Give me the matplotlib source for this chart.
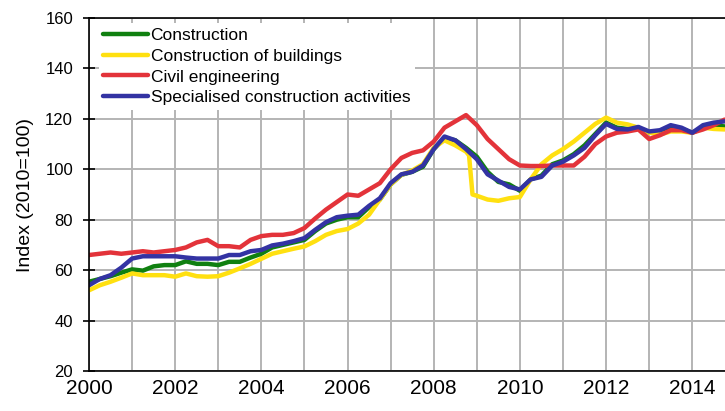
import numpy as np
import matplotlib.pyplot as plt

# quarterly readings, 2000 Q1 .. 2014 Q4
years = np.arange(2000, 2014.76, 0.25)

construction = [55.4, 56.5, 57.6, 59, 60.3, 59.8, 61.5, 62, 62, 63.5, 62.5, 62.5,
                62, 63.3, 63.3, 65, 66.5, 69, 70, 71, 72, 75.5, 78.5, 80,
                81, 81, 85, 88, 94, 97.8, 99, 101, 108, 112.5, 111.5, 108.5,
                105, 99, 95, 94, 91.5, 96, 97.5, 102, 103.5, 106, 109.5, 114,
                118.5, 116.5, 116, 116.5, 114.5, 114.5, 116.5, 116, 114.5, 116.5, 117.5, 117]

civil = [66, 66.5, 67, 66.5, 67, 67.5, 67, 67.5, 68, 69, 71, 72,
         69.5, 69.5, 69, 72, 73.5, 74, 74, 74.7, 76.7, 80.5, 84, 87,
         90, 89.5, 92, 94.5, 100, 104.5, 106.5, 107.5, 111, 116.5, 119, 121.5,
         117.5, 112, 108, 104, 101.5, 101.3, 101.3, 101.5, 101.5, 101.5, 105, 110,
         113, 114.5, 115, 115.8, 112, 113.5, 115.5, 115.5, 114.5, 115.8, 117.5, 119.7]

specialised = [54, 56.5, 58, 61, 64.6, 65.5, 65.5, 65.5, 65.5, 65, 64.6, 64.6,
               64.6, 66, 66, 67.5, 68, 69.8, 70.5, 71.5, 72.7, 76, 79, 81,
               81.6, 82, 85.5, 88.5, 94.5, 98, 99, 101.5, 108, 113, 111.5, 108,
               104, 98, 95.5, 93, 92, 96, 97, 101.5, 103, 105.5, 108.5, 113.5,
               118, 116, 115.8, 116.8, 115, 115.5, 117.5, 116.5, 114.5, 117.5, 118.5, 119]

# buildings has the sharp drop at end of 2008, so it gets a few extra points
buildings_years = [2000, 2000.25, 2000.5, 2000.75, 2001, 2001.25, 2001.5, 2001.75,
                   2002, 2002.25, 2002.5, 2002.75, 2003, 2003.25, 2003.5, 2003.75,
                   2004, 2004.25, 2004.5, 2004.75, 2005, 2005.25, 2005.5, 2005.75,
                   2006, 2006.25, 2006.5, 2006.75, 2007, 2007.25, 2007.5, 2007.75,
                   2008, 2008.25, 2008.5, 2008.75, 2008.82, 2008.9, 2009, 2009.25,
                   2009.5, 2009.75, 2010, 2010.25, 2010.5, 2010.75, 2011, 2011.25,
                   2011.5, 2011.75, 2012, 2012.25, 2012.5, 2012.75, 2013, 2013.25,
                   2013.5, 2013.75, 2014, 2014.25, 2014.5, 2014.75]
buildings = [52, 54, 55.4, 57, 58.7, 58, 58, 58, 57.4, 58.7, 57.6, 57.4,
             57.6, 59, 60.7, 62.5, 64.5, 66.5, 67.5, 68.5, 69.4, 71.5, 74, 75.5,
             76.3, 78.5, 82, 88, 94, 97.8, 99.5, 102, 108.5, 111.5, 109.5, 107,
             105.5, 90, 89.5, 88, 87.5, 88.5, 89, 96, 102, 105.5, 108, 111,
             114.5, 118, 120.5, 118.5, 117.8, 116.5, 114.5, 113.8, 115, 115,
             114.5, 116.5, 116, 115.8]

labels = ['Construction', 'Construction of buildings', 'Civil engineering',
          'Specialised construction activities']

plt.rcParams['font.family'] = ['Liberation Sans', 'DejaVu Sans']

fig = plt.figure(figsize=(7.25, 4.11), dpi=100)
ax = fig.add_axes([89/725, 40/411, 636/725, 353/411])

lw = 3.2
style = dict(lw=lw, solid_joinstyle='round', solid_capstyle='round')
ax.plot(years, construction, color='#108010', label=labels[0], **style)
ax.plot(buildings_years, buildings, color='#ffe010', label=labels[1], **style)
ax.plot(years, civil, color='#e3333a', label=labels[2], **style)
ax.plot(years, specialised, color='#3333a3', label=labels[3], **style)

ax.set_xlim(2000, 2014.76)
ax.set_ylim(20, 160)
ax.set_xticks(np.arange(2000, 2015, 2))
ax.set_xticks(np.arange(2001, 2015, 2), minor=True)
ax.set_yticks(np.arange(20, 161, 20))
ax.grid(True, which='both', color='#b4b4b4', lw=1.4)
ax.set_axisbelow(True)

ax.tick_params(axis='x', which='both', length=0, pad=6, labelsize=15)
ax.tick_params(axis='y', direction='inout', length=9, width=1.2, labelsize=12, pad=7)

for side in ['left', 'bottom', 'top']:
    ax.spines[side].set_linewidth(1.2)
ax.spines['right'].set_visible(False)

ax.set_ylabel('Index (2010=100)', fontsize=14, labelpad=8)

leg = ax.legend(loc='upper left', bbox_to_anchor=(0.015, 0.985), borderaxespad=0,
                fontsize=12.5, handlelength=2.6, handletextpad=0.15, labelspacing=0.33,
                borderpad=0.25, frameon=True, fancybox=False, framealpha=1,
                edgecolor='none', facecolor='white')

plt.savefig('out.png', dpi=100)
